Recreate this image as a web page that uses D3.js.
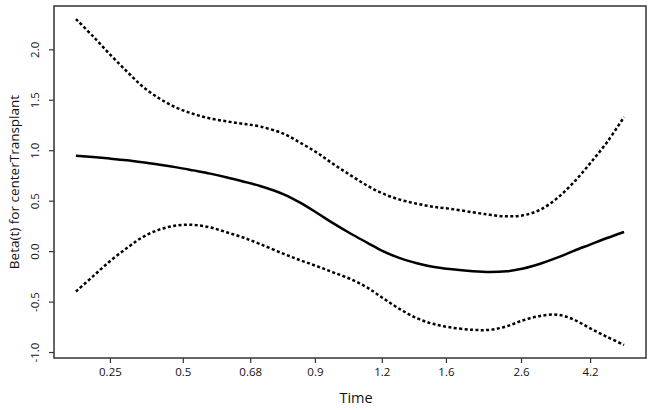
<!DOCTYPE html>
<html>
<head>
<meta charset="utf-8">
<script src="https://cdn.jsdelivr.net/npm/d3@7"></script>
<style>
  html, body { margin: 0; padding: 0; background: #fff; }
  svg { display: block; }
  text { font-family: "Open Sans", "DejaVu Sans", sans-serif; fill: #111; }
</style>
</head>
<body>
<svg id="chart" width="653" height="410"></svg>
<script>
// transformed (KM) time positions of the sampled curve points
const timePos = [0, 0.031, 0.062, 0.093, 0.122, 0.153, 0.184, 0.214, 0.245, 0.276, 0.305, 0.336,
  0.378, 0.409, 0.440, 0.469, 0.500, 0.531, 0.560, 0.591, 0.622, 0.651, 0.682,
  0.724, 0.755, 0.786, 0.816, 0.847, 0.878, 0.907, 0.938, 0.969, 1.000];
const betaFit = [0.945, 0.932, 0.917, 0.90, 0.88, 0.857, 0.83, 0.80, 0.768, 0.73, 0.69, 0.645,
  0.565, 0.48, 0.378, 0.277, 0.177, 0.085, 0.0, -0.07, -0.12, -0.155, -0.178,
  -0.20, -0.208, -0.20, -0.172, -0.125, -0.065, 0.0, 0.065, 0.13, 0.19];
const upperCI = [2.30, 2.13, 1.95, 1.78, 1.63, 1.51, 1.42, 1.36, 1.315, 1.285, 1.262, 1.235,
  1.165, 1.075, 0.975, 0.865, 0.755, 0.65, 0.57, 0.51, 0.47, 0.44, 0.42,
  0.385, 0.36, 0.345, 0.355, 0.41, 0.525, 0.675, 0.87, 1.08, 1.33];
const lowerCI = [-0.40, -0.25, -0.10, 0.03, 0.14, 0.215, 0.255, 0.26, 0.235, 0.185, 0.135, 0.07,
  -0.025, -0.09, -0.15, -0.21, -0.275, -0.36, -0.465, -0.575, -0.665, -0.72, -0.755,
  -0.78, -0.78, -0.745, -0.685, -0.642, -0.63, -0.675, -0.765, -0.85, -0.93];
// x axis ticks: transformed positions and their time labels
const xTickPos = [0.062, 0.195, 0.318, 0.436, 0.558, 0.675, 0.812, 0.938];
const xTickLabels = ["0.25", "0.5", "0.68", "0.9", "1.2", "1.6", "2.6", "4.2"];
const yTicks = [-1.0, -0.5, 0.0, 0.5, 1.0, 1.5, 2.0];

const svg = d3.select("#chart");
const box = { left: 54, right: 646, top: 6, bottom: 358 };

const xMin = d3.min(timePos), xMax = d3.max(timePos);
const xPad = (xMax - xMin) * 0.04;
const x = d3.scaleLinear().domain([xMin - xPad, xMax + xPad]).range([box.left, box.right]);
const yMin = d3.min(lowerCI), yMax = d3.max(upperCI);
const yPad = (yMax - yMin) * 0.04;
const y = d3.scaleLinear().domain([yMin - yPad, yMax + yPad]).range([box.bottom, box.top]);

// box
svg.append("rect")
  .attr("x", box.left).attr("y", box.top)
  .attr("width", box.right - box.left).attr("height", box.bottom - box.top)
  .attr("fill", "none").attr("stroke", "#333").attr("stroke-width", 1.5);

// x axis
const xAxis = svg.append("g")
  .attr("transform", `translate(0,${box.bottom})`)
  .call(d3.axisBottom(x).tickValues(xTickPos).tickSize(5).tickPadding(5)
    .tickFormat((d, i) => xTickLabels[i]));
xAxis.select(".domain").remove();
xAxis.selectAll(".tick line").attr("stroke", "#333").attr("stroke-width", 1.2);
xAxis.selectAll(".tick text").attr("font-size", 11.5).attr("fill", "#111")
  .style("font-family", "'Open Sans', 'DejaVu Sans', sans-serif");

// y axis
const yAxis = svg.append("g")
  .attr("transform", `translate(${box.left},0)`)
  .call(d3.axisLeft(y).tickValues(yTicks).tickSize(5).tickFormat(d3.format(".1f")));
yAxis.select(".domain").remove();
yAxis.selectAll(".tick line").attr("stroke", "#333").attr("stroke-width", 1.2);
yAxis.selectAll(".tick text")
  .attr("x", null).attr("dy", null)
  .attr("text-anchor", "middle")
  .attr("transform", "translate(-15,0) rotate(-90)")
  .attr("font-size", 11.5).attr("fill", "#111")
  .text(d => d3.format(".1f")(d).replace("\u2212", "-"))
  .style("font-family", "'Open Sans', 'DejaVu Sans', sans-serif");

// axis titles
svg.append("text")
  .attr("x", (box.left + box.right) / 2 + 6).attr("y", 403)
  .attr("text-anchor", "middle").attr("font-size", 14.5)
  .text("Time");
svg.append("text")
  .attr("transform", `translate(19,${(box.top + box.bottom) / 2}) rotate(-90)`)
  .attr("text-anchor", "middle").attr("font-size", 13.5)
  .text("Beta(t) for centerTransplant");

// lines
const line = vals => d3.line()
  .x((d, i) => x(timePos[i]))
  .y(d => y(d))
  .curve(d3.curveCatmullRom.alpha(0.5))(vals);

svg.append("path").attr("d", line(upperCI))
  .attr("fill", "none").attr("stroke", "#000").attr("stroke-width", 2.5)
  .attr("stroke-dasharray", "3,2.4");
svg.append("path").attr("d", line(lowerCI))
  .attr("fill", "none").attr("stroke", "#000").attr("stroke-width", 2.5)
  .attr("stroke-dasharray", "3,2.4");
svg.append("path").attr("d", line(betaFit))
  .attr("fill", "none").attr("stroke", "#000").attr("stroke-width", 2.5);
</script>
</body>
</html>
